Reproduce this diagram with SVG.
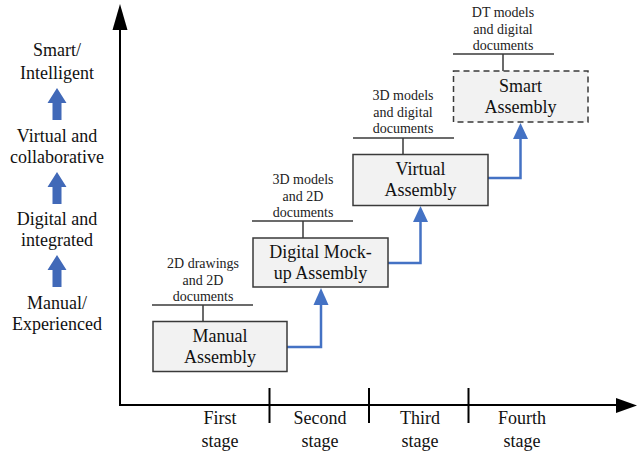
<svg xmlns="http://www.w3.org/2000/svg" width="637" height="455" viewBox="0 0 637 455">
<style>
.box{fill:#f2f2f2;stroke:#3a3a3a;stroke-width:1.5}
.ll{stroke:#3a3a3a;stroke-width:1.5;fill:none}
</style>
<rect width="637" height="455" fill="#fff"/>
<g id="axes" stroke="#000" stroke-width="2" fill="none">
<line x1="120" y1="28" x2="120" y2="405"/>
<line x1="119" y1="405" x2="618" y2="405"/>
<line x1="269.5" y1="388" x2="269.5" y2="423"/>
<line x1="369" y1="388" x2="369" y2="423"/>
<line x1="468.5" y1="388" x2="468.5" y2="423"/>
<polygon points="120,4 112.5,30 127.5,30" fill="#000" stroke="none"/>
<polygon points="637,405.5 616,398 616,413" fill="#000" stroke="none"/>
</g>
<g id="stages">
<text x="220" y="424" font-size="18" font-family="Liberation Serif" text-anchor="middle" fill="#111">First</text>
<text x="220" y="447" font-size="18" font-family="Liberation Serif" text-anchor="middle" fill="#111">stage</text>
<text x="320" y="424" font-size="18" font-family="Liberation Serif" text-anchor="middle" fill="#111">Second</text>
<text x="320" y="447" font-size="18" font-family="Liberation Serif" text-anchor="middle" fill="#111">stage</text>
<text x="420" y="424" font-size="18" font-family="Liberation Serif" text-anchor="middle" fill="#111">Third</text>
<text x="420" y="447" font-size="18" font-family="Liberation Serif" text-anchor="middle" fill="#111">stage</text>
<text x="522" y="424" font-size="18" font-family="Liberation Serif" text-anchor="middle" fill="#111">Fourth</text>
<text x="522" y="447" font-size="18" font-family="Liberation Serif" text-anchor="middle" fill="#111">stage</text>
</g>
<g id="levels">
<text x="57" y="56" font-size="18" font-family="Liberation Serif" text-anchor="middle" fill="#111">Smart/</text>
<text x="57" y="79" font-size="18" font-family="Liberation Serif" text-anchor="middle" fill="#111">Intelligent</text>
<polygon fill="#4169b8" points="57,88 47.5,103 52.5,103 52.5,120 61.5,120 61.5,103 66.5,103"/>
<text x="57" y="142" font-size="18" font-family="Liberation Serif" text-anchor="middle" fill="#111">Virtual and</text>
<text x="57" y="163" font-size="18" font-family="Liberation Serif" text-anchor="middle" fill="#111">collaborative</text>
<polygon fill="#4169b8" points="57,172 47.5,187 52.5,187 52.5,204 61.5,204 61.5,187 66.5,187"/>
<text x="57" y="225" font-size="18" font-family="Liberation Serif" text-anchor="middle" fill="#111">Digital and</text>
<text x="57" y="246" font-size="18" font-family="Liberation Serif" text-anchor="middle" fill="#111">integrated</text>
<polygon fill="#4169b8" points="57,255 47.5,270 52.5,270 52.5,287 61.5,287 61.5,270 66.5,270"/>
<text x="57" y="309" font-size="18" font-family="Liberation Serif" text-anchor="middle" fill="#111">Manual/</text>
<text x="57" y="330" font-size="18" font-family="Liberation Serif" text-anchor="middle" fill="#111">Experienced</text>
</g>
<g id="connectors" stroke="#4472c4" stroke-width="2.5" fill="none">
<path d="M287,347 H321 V303"/>
<path d="M388,263 H420.5 V220"/>
<path d="M488,178 H520.5 V137"/>
<polygon points="321,288 313.5,305 328.5,305" fill="#4472c4" stroke="none"/>
<polygon points="420.5,206 413,222 428,222" fill="#4472c4" stroke="none"/>
<polygon points="520.5,123 513,139 528,139" fill="#4472c4" stroke="none"/>
</g>
<g id="manual">
<line class="ll" x1="152" y1="305" x2="253" y2="305"/>
<line class="ll" x1="203" y1="305" x2="203" y2="321"/>
<text x="203" y="268" font-size="14" font-family="Liberation Serif" text-anchor="middle" fill="#222">2D drawings</text>
<text x="203" y="284.5" font-size="14" font-family="Liberation Serif" text-anchor="middle" fill="#222">and 2D</text>
<text x="203" y="301" font-size="14" font-family="Liberation Serif" text-anchor="middle" fill="#222">documents</text>
<rect class="box" x="153" y="321.5" width="134" height="50"/>
<text x="220" y="342" font-size="18" font-family="Liberation Serif" text-anchor="middle" fill="#111">Manual</text>
<text x="220" y="363" font-size="18" font-family="Liberation Serif" text-anchor="middle" fill="#111">Assembly</text>
</g>
<g id="digital">
<line class="ll" x1="252" y1="221" x2="353" y2="221"/>
<line class="ll" x1="303" y1="221" x2="303" y2="238"/>
<text x="303" y="184" font-size="14" font-family="Liberation Serif" text-anchor="middle" fill="#222">3D models</text>
<text x="303" y="200.5" font-size="14" font-family="Liberation Serif" text-anchor="middle" fill="#222">and 2D</text>
<text x="303" y="217" font-size="14" font-family="Liberation Serif" text-anchor="middle" fill="#222">documents</text>
<rect class="box" x="253" y="238" width="135" height="49"/>
<text x="320.5" y="258" font-size="18" font-family="Liberation Serif" text-anchor="middle" fill="#111">Digital Mock-</text>
<text x="320.5" y="279" font-size="18" font-family="Liberation Serif" text-anchor="middle" fill="#111">up Assembly</text>
</g>
<g id="virtual">
<line class="ll" x1="353" y1="138" x2="454" y2="138"/>
<line class="ll" x1="403" y1="138" x2="403" y2="154"/>
<text x="403" y="99.5" font-size="14" font-family="Liberation Serif" text-anchor="middle" fill="#222">3D models</text>
<text x="403" y="116.5" font-size="14" font-family="Liberation Serif" text-anchor="middle" fill="#222">and digital</text>
<text x="403" y="133" font-size="14" font-family="Liberation Serif" text-anchor="middle" fill="#222">documents</text>
<rect class="box" x="353" y="154.5" width="135" height="51"/>
<text x="420.5" y="175" font-size="18" font-family="Liberation Serif" text-anchor="middle" fill="#111">Virtual</text>
<text x="420.5" y="196" font-size="18" font-family="Liberation Serif" text-anchor="middle" fill="#111">Assembly</text>
</g>
<g id="smart">
<line class="ll" x1="453" y1="54" x2="554" y2="54"/>
<line class="ll" x1="503" y1="54" x2="503" y2="71"/>
<text x="503" y="17" font-size="14" font-family="Liberation Serif" text-anchor="middle" fill="#222">DT models</text>
<text x="503" y="33.5" font-size="14" font-family="Liberation Serif" text-anchor="middle" fill="#222">and digital</text>
<text x="503" y="50" font-size="14" font-family="Liberation Serif" text-anchor="middle" fill="#222">documents</text>
<rect class="box" x="453.5" y="71" width="134.5" height="51" stroke-dasharray="6 4"/>
<text x="520.5" y="92" font-size="18" font-family="Liberation Serif" text-anchor="middle" fill="#111">Smart</text>
<text x="520.5" y="113" font-size="18" font-family="Liberation Serif" text-anchor="middle" fill="#111">Assembly</text>
</g>
</svg>
